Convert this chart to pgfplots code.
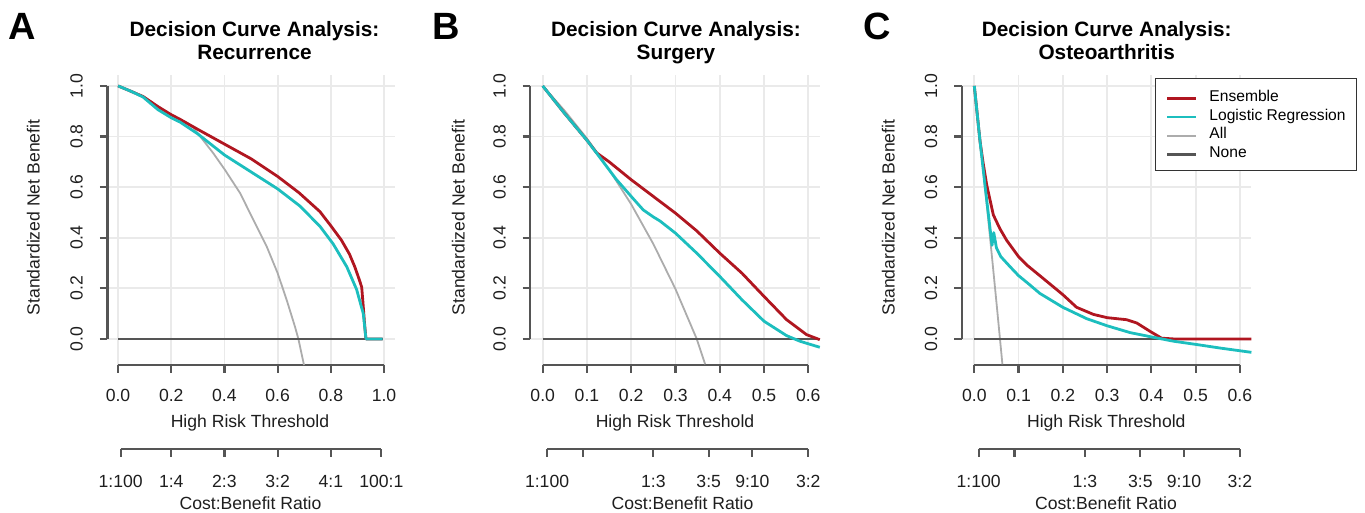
\documentclass[border=0pt]{standalone}
\usepackage{fontspec}
\setmainfont{Liberation Sans}
\usepackage{pgfplots}
\pgfplotsset{compat=1.18}

\definecolor{ens}{RGB}{176,22,32}
\definecolor{lrc}{RGB}{28,190,190}
\definecolor{allc}{RGB}{172,172,172}
\definecolor{axc}{RGB}{85,85,85}
\definecolor{gridc}{RGB}{234,234,234}
\definecolor{txt}{RGB}{30,30,30}

\pgfplotsset{
  dca/.style={scale only axis, anchor=south west, height=145pt,
    ymin=-0.103, ymax=1.043, clip=false,
    axis x line*=bottom, axis y line*=left, axis line style={draw=none},
    tick align=outside, major tick length=3.8pt,
    tick style={axc, line width=1.1pt},
    xmajorgrids, ymajorgrids, grid style={gridc, line width=0.9pt},
    ytick={0,0.2,0.4,0.6,0.8,1}, yticklabels={0.0,0.2,0.4,0.6,0.8,1.0},
    tick label style={font=\fontsize{8.8}{10}\selectfont, text=txt, inner sep=0pt},
    xticklabel style={anchor=base}, xticklabel shift=14.5pt,
    yticklabel style={rotate=90, anchor=base}, yticklabel shift=8.6pt},
  cb/.style={scale only axis, anchor=south west, height=1pt,
    ymin=0, ymax=1, clip=false, hide y axis,
    axis x line*=bottom, axis line style={draw=none},
    tick align=outside, major tick length=3.8pt,
    tick style={axc, line width=1.1pt},
    tick label style={font=\fontsize{8.8}{10}\selectfont, text=txt, inner sep=0pt},
    xticklabel style={anchor=base}, xticklabel shift=15.4pt},
}
\tikzset{
  lab/.style={font=\fontsize{8.8}{10}\selectfont, text=txt, anchor=base},
  ttl/.style={font=\fontsize{10.4}{12}\selectfont\bfseries, anchor=base},
  pletter/.style={font=\fontsize{19}{20}\selectfont\bfseries, anchor=base},
}

\begin{document}
\begin{tikzpicture}
\useasboundingbox (0pt,0pt) rectangle (682.5pt,256.5pt);

% ---------------- A: Recurrence
\begin{axis}[dca, at={(53.7pt,74pt)}, width=143.64pt, xmin=-0.04, xmax=1.04,
  xtick={0,0.2,0.4,0.6,0.8,1}, xticklabels={0.0,0.2,0.4,0.6,0.8,1.0}]
\draw[axc, line width=1.1pt] (axis cs:0,-0.103) -- (axis cs:1,-0.103);
\draw[axc, line width=1.1pt] (axis cs:-0.04,0) -- (axis cs:-0.04,1);
\addplot[allc, line width=0.9pt] coordinates {(0,1) (0.1,0.955) (0.2,0.885) (0.283,0.835) (0.358,0.734) (0.402,0.668) (0.459,0.576) (0.509,0.47) (0.559,0.365) (0.6,0.26) (0.634,0.154) (0.665,0.049) (0.678,0) (0.699,-0.103)};
\addplot[axc, line width=1.3pt] coordinates {(0,0) (0.995,0)};
\addplot[ens, line width=1.4pt, line join=round] coordinates {(0,1) (0.05,0.978) (0.094,0.958) (0.15,0.918) (0.2,0.886) (0.233,0.868) (0.3,0.828) (0.4,0.77) (0.5,0.712) (0.6,0.642) (0.68,0.578) (0.759,0.503) (0.8,0.447) (0.84,0.39) (0.87,0.335) (0.89,0.285) (0.905,0.24) (0.916,0.205) (0.921,0.14) (0.926,0.07) (0.931,0.01) (0.932,0) (0.995,0)};
\addplot[lrc, line width=1.4pt, line join=round] coordinates {(0,1) (0.05,0.978) (0.094,0.956) (0.15,0.906) (0.2,0.874) (0.233,0.857) (0.3,0.81) (0.4,0.727) (0.5,0.66) (0.6,0.593) (0.684,0.525) (0.759,0.445) (0.809,0.375) (0.86,0.285) (0.897,0.195) (0.922,0.1) (0.932,0) (0.995,0)};
\end{axis}
\begin{axis}[cb, at={(53.7pt,32pt)}, width=143.64pt, xmin=-0.04, xmax=1.04,
  xtick={0.0099,0.2,0.4,0.6,0.8,0.99}, xticklabels={1:100,1:4,2:3,3:2,4:1,100:1}]
\draw[axc, line width=1.1pt] (axis cs:0.0099,0) -- (axis cs:0.99,0);
\end{axis}

% ---------------- B: Surgery
\begin{axis}[dca, at={(265.15pt,74pt)}, width=144.75pt, xmin=-0.028, xmax=0.626,
  xtick={0,0.1,0.2,0.3,0.4,0.5,0.6}, xticklabels={0.0,0.1,0.2,0.3,0.4,0.5,0.6}]
\draw[axc, line width=1.1pt] (axis cs:0,-0.103) -- (axis cs:0.6,-0.103);
\draw[axc, line width=1.1pt] (axis cs:-0.028,0) -- (axis cs:-0.028,1);
\addplot[allc, line width=0.9pt] coordinates {(0,1) (0.05,0.901) (0.1,0.792) (0.15,0.669) (0.2,0.532) (0.25,0.375) (0.3,0.197) (0.348,0) (0.367,-0.1)};
\addplot[axc, line width=1.3pt] coordinates {(0,0) (0.626,0)};
\addplot[ens, line width=1.4pt, line join=round] coordinates {(0,1) (0.05,0.89) (0.1,0.785) (0.122,0.735) (0.15,0.70) (0.2,0.629) (0.25,0.563) (0.3,0.497) (0.348,0.427) (0.4,0.339) (0.45,0.26) (0.5,0.168) (0.551,0.076) (0.596,0.017) (0.626,-0.003)};
\addplot[lrc, line width=1.4pt, line join=round] coordinates {(0,1) (0.05,0.89) (0.1,0.785) (0.122,0.734) (0.145,0.68) (0.167,0.629) (0.2,0.563) (0.227,0.51) (0.25,0.482) (0.265,0.466) (0.3,0.418) (0.348,0.339) (0.4,0.247) (0.45,0.155) (0.5,0.07) (0.551,0.013) (0.581,-0.009) (0.626,-0.033)};
\end{axis}
\begin{axis}[cb, at={(265.15pt,32pt)}, width=144.75pt, xmin=-0.028, xmax=0.626,
  xtick={0.0099,0.0909,0.25,0.375,0.4737,0.6}, xticklabels={1:100,,1:3,3:5,9:10,3:2}]
\draw[axc, line width=1.1pt] (axis cs:0.0099,0) -- (axis cs:0.6,0);
\end{axis}

% ---------------- C: Osteoarthritis
\begin{axis}[dca, at={(480.95pt,74pt)}, width=144.75pt, xmin=-0.028, xmax=0.626,
  xtick={0,0.1,0.2,0.3,0.4,0.5,0.6}, xticklabels={0.0,0.1,0.2,0.3,0.4,0.5,0.6},
  legend style={at={(0.6655,0.9897)}, anchor=north west, draw=black!80,
    line width=0.7pt, fill=white, font=\fontsize{7.8}{9}\selectfont,
    nodes={inner sep=0pt, text depth=0.22em, text height=0.72em},
    column sep=6pt, row sep=-0.05pt, inner xsep=5.5pt, inner ysep=4.2pt},
  legend cell align=left,
  legend image code/.code={\draw[#1] (0pt,-0.1em) -- (14.5pt,-0.1em);}]
\draw[axc, line width=1.1pt] (axis cs:0,-0.103) -- (axis cs:0.6,-0.103);
\draw[axc, line width=1.1pt] (axis cs:-0.028,0) -- (axis cs:-0.028,1);
\addplot[allc, line width=0.9pt, forget plot] coordinates {(0,1) (0.01,0.836) (0.02,0.669) (0.03,0.498) (0.04,0.323) (0.05,0.145) (0.058,0) (0.0635,-0.1)};
\addplot[axc, line width=1.3pt, forget plot] coordinates {(0,0) (0.626,0)};
\addplot[ens, line width=1.4pt, line join=round, forget plot] coordinates {(0,1) (0.013,0.78) (0.02,0.695) (0.028,0.609) (0.043,0.49) (0.058,0.435) (0.073,0.39) (0.1,0.325) (0.12,0.29) (0.148,0.25) (0.2,0.175) (0.231,0.125) (0.269,0.097) (0.3,0.084) (0.344,0.076) (0.367,0.063) (0.397,0.03) (0.423,0.003) (0.45,0) (0.626,0)};
\addplot[lrc, line width=1.4pt, line join=round, forget plot] coordinates {(0,1) (0.013,0.78) (0.024,0.609) (0.032,0.49) (0.036,0.43) (0.04,0.37) (0.044,0.42) (0.05,0.36) (0.06,0.325) (0.081,0.285) (0.1,0.25) (0.121,0.22) (0.148,0.18) (0.2,0.125) (0.254,0.08) (0.3,0.052) (0.352,0.025) (0.4,0.008) (0.45,-0.009) (0.502,-0.022) (0.555,-0.036) (0.626,-0.053)};
\addlegendimage{ens, line width=1.1pt}\addlegendentry{Ensemble}
\addlegendimage{lrc, line width=1.1pt}\addlegendentry{Logistic Regression}
\addlegendimage{allc, line width=0.8pt}\addlegendentry{All}
\addlegendimage{axc, line width=1.1pt}\addlegendentry{None}
\end{axis}
\begin{axis}[cb, at={(480.95pt,32pt)}, width=144.75pt, xmin=-0.028, xmax=0.626,
  xtick={0.0099,0.0909,0.25,0.375,0.4737,0.6}, xticklabels={1:100,,1:3,3:5,9:10,3:2}]
\draw[axc, line width=1.1pt] (axis cs:0.0099,0) -- (axis cs:0.6,0);
\end{axis}

% ---------------- titles, letters and axis labels
\node[pletter] at (11.25pt,236.5pt) {A};
\node[pletter] at (223.25pt,236.5pt) {B};
\node[pletter] at (438.75pt,236.5pt) {C};
\node[ttl] at (127.25pt,238.15pt) {Decision Curve Analysis:};
\node[ttl] at (127.25pt,226.85pt) {Recurrence};
\node[ttl] at (338pt,238.15pt) {Decision Curve Analysis:};
\node[ttl] at (338pt,226.85pt) {Surgery};
\node[ttl] at (553.35pt,238.15pt) {Decision Curve Analysis:};
\node[ttl] at (553.35pt,226.85pt) {Osteoarthritis};
\node[lab] at (125pt,42.5pt) {High Risk Threshold};
\node[lab] at (337.5pt,42.5pt) {High Risk Threshold};
\node[lab] at (553.15pt,42.5pt) {High Risk Threshold};
\node[lab] at (125.25pt,1.5pt) {Cost:Benefit Ratio};
\node[lab] at (341.25pt,1.5pt) {Cost:Benefit Ratio};
\node[lab] at (553pt,1.5pt) {Cost:Benefit Ratio};
\node[lab, rotate=90, anchor=center] at (16.65pt,147.75pt) {Standardized Net Benefit};
\node[lab, rotate=90, anchor=center] at (229.15pt,147.75pt) {Standardized Net Benefit};
\node[lab, rotate=90, anchor=center] at (444.15pt,147.75pt) {Standardized Net Benefit};
\end{tikzpicture}
\end{document}
